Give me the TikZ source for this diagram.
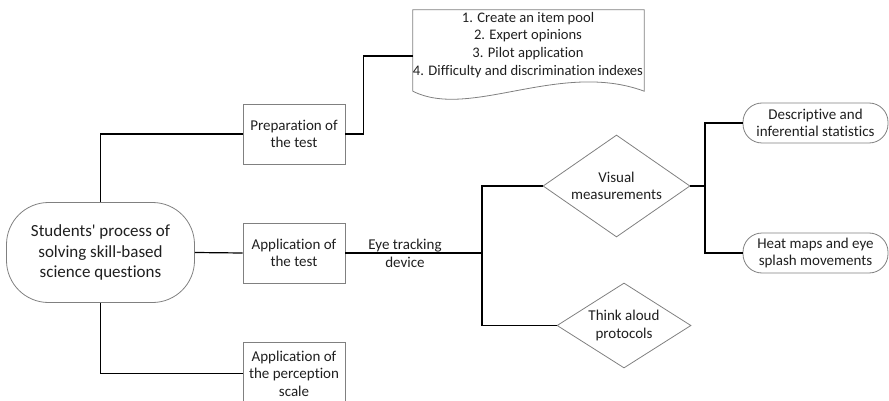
\documentclass[tikz,border=0pt]{standalone}
\usepackage{fontspec}
\setmainfont{Carlito}[Ligatures={NoCommon}]
\usetikzlibrary{shapes.geometric}
\begin{document}
\begin{tikzpicture}[x=1pt,y=-1pt,
  txt/.style={font=\fontsize{15}{17.5}\selectfont, align=center, text=black!88},
  box/.style={txt, draw=black!50, line width=0.8pt, minimum width=102, minimum height=60, inner sep=0},
  pill/.style={txt, draw=black!50, line width=0.8pt, rounded corners=19pt, minimum width=145, minimum height=40, inner sep=0},
  dia/.style={txt, draw=black!50, line width=0.8pt, diamond, inner sep=0},
  conn/.style={draw=black, line width=1.2pt}]
\useasboundingbox (0,0) rectangle (889,401);
% main node
\node[draw=black!50, line width=0.8pt, rounded corners=42pt, minimum width=188, minimum height=100,
  font=\fontsize{17}{20.5}\selectfont, align=center, text=black!88] (main) at (100.5,252.5)
  {Students\textquotesingle{} process of\\solving skill-based\\science questions};
% boxes
\node[box] (prep) at (294,134) {Preparation of\\the test};
\node[box] (app) at (294,253) {Application of\\the test};
\node[box, minimum height=63] (perc) at (294,373.5) {Application of\\the perception\\scale};
% document
\node[minimum width=231, minimum height=81, inner sep=0] (doc) at (528.5,50.5) {};
\draw[draw=black!50, line width=0.8pt] (doc.south west) -- (doc.north west) -- (doc.north east) -- (doc.south east)
  .. controls (560,60) and (470,120) .. (doc.south west) -- cycle;
\node[txt, font=\fontsize{14.6}{17.8}\selectfont] (doctext) at (528,45) {1. Create an item pool\\2. Expert opinions\\3. Pilot application\\4. Difficulty and discrimination indexes};
\coordinate (docin) at (413,56);
% diamonds
\node[dia, minimum width=147, minimum height=102, shape aspect=1.44] (vis) at (616.5,186) {Visual\\measurements};
\node[dia, minimum width=134, minimum height=85, shape aspect=1.58] (think) at (624,325.5) {Think aloud\\protocols};
% pills
\node[pill] (desc) at (815.5,123) {Descriptive and\\inferential statistics};
\node[pill] (heat) at (815.5,253) {Heat maps and eye\\splash movements};
% label
\node[txt] (eye) at (405,253.5) {Eye tracking\\device};
% connectors
\coordinate (split) at (482,253);
\coordinate (split2) at (705,186);
\draw[conn] (main.north) |- (prep.west);
\draw[conn] (main.east) -- (app.west);
\draw[conn] (main.south) |- (perc.west);
\draw[conn] (prep.east) -- ++(18,0) |- (docin);
\draw[conn] (app.east) -- (split);
\draw[conn] (split) |- (vis.west);
\draw[conn] (split) |- (think.west);
\draw[conn] (vis.east) -- (split2);
\draw[conn] (split2) |- (desc.west);
\draw[conn] (split2) |- (heat.west);
\end{tikzpicture}
\end{document}
